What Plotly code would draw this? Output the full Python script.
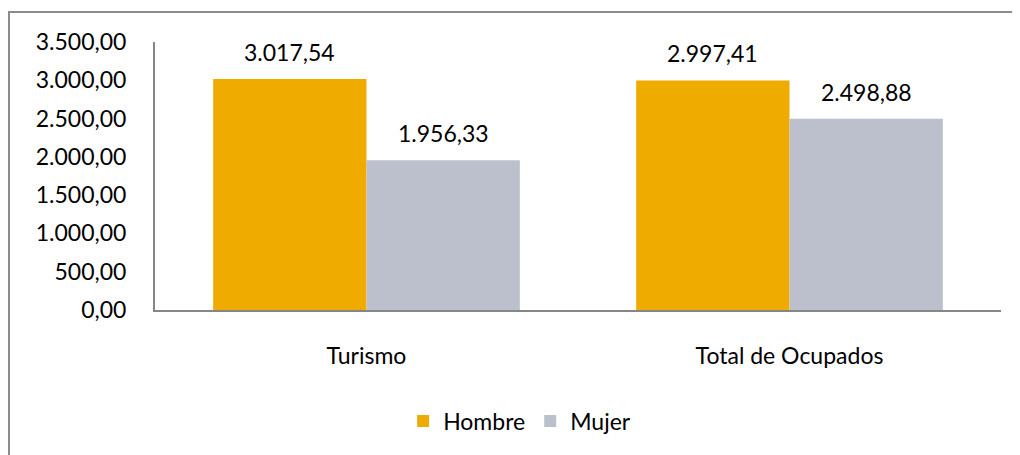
import plotly.graph_objects as go

categories = ["Turismo", "Total de Ocupados"]
hombre = [3017.54, 2997.41]
mujer = [1956.33, 2498.88]
series_names = ["Hombre", "Mujer"]
colors = ["#F0AB00", "#BBC0CC"]
y_ticks = [0, 500, 1000, 1500, 2000, 2500, 3000, 3500]

FONT = "Lato"
FS = 23
BARGAP = 0.275


def es(v):
    s = f"{v:,.2f}"
    return s.replace(",", "X").replace(".", ",").replace("X", ".")


fig = go.Figure()
for name, vals, col in zip(series_names, [hombre, mujer], colors):
    fig.add_trace(go.Bar(x=categories, y=vals, name=name, marker=dict(color=col, line=dict(width=0))))

# value labels above each bar
half = (1 - BARGAP) / 4
for si, vals in enumerate([hombre, mujer]):
    off = -half if si == 0 else half
    for ci, v in enumerate(vals):
        fig.add_annotation(x=ci + off, y=v, xref="x", yref="y", text=es(v), showarrow=False,
                           yanchor="middle", yshift=27, font=dict(family=FONT, size=FS, color="#000"))

fig.add_shape(type="rect", xref="paper", yref="paper", x0=-0.1726, x1=1.2, y0=-1.0, y1=1.112,
              line=dict(color="#8C8C8C", width=2), fillcolor="rgba(0,0,0,0)", layer="below")

fig.update_layout(
    width=1020, height=455,
    margin=dict(l=147, r=27, t=34, b=153),
    paper_bgcolor="white", plot_bgcolor="white",
    separators=",.",
    barmode="group", bargap=BARGAP, bargroupgap=0,
    font=dict(family=FONT, size=FS, color="#000"),
    showlegend=True,
    legend=dict(orientation="h", x=0.431, xanchor="center", y=-0.414, yanchor="middle",
                font=dict(family=FONT, size=FS), itemwidth=30, traceorder="normal"),
)
fig.update_yaxes(range=[0, 3500], tickvals=y_ticks, tickformat=",.2f", showgrid=False,
                 showline=True, linecolor="#868686", linewidth=2, ticks="", ticklabelstandoff=22,
                 zeroline=False)
fig.update_xaxes(showline=True, linecolor="#868686", linewidth=2, ticks="", ticklabelstandoff=24,
                 showgrid=False)

fig.write_html("out.html")
